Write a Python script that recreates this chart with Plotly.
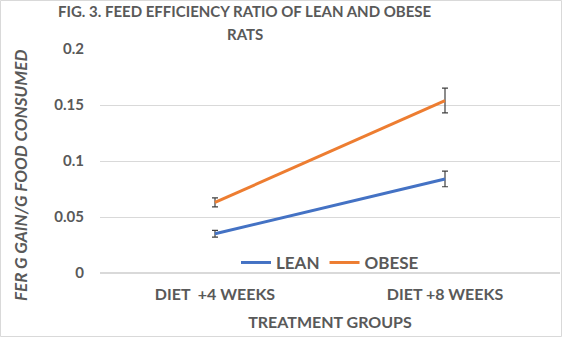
import plotly.graph_objects as go

groups = ["DIET  +4 WEEKS", "DIET +8 WEEKS"]
lean = [0.035, 0.084]
lean_err = [0.003, 0.007]
obese = [0.063, 0.154]
obese_err = [0.004, 0.011]
y_ticks = [0, 0.05, 0.1, 0.15, 0.2]
y_tick_text = ["0", "0.05", "0.1", "0.15", "0.2"]
title_lines = ["FIG. 3. FEED EFFICIENCY RATIO OF LEAN AND OBESE", "RATS"]

grey = "#595959"
font_family = "Lato, 'Open Sans', sans-serif"

fig = go.Figure()
fig.add_trace(go.Scatter(
    x=groups, y=lean, name="<b>LEAN</b>", mode="lines",
    line=dict(color="#4472C4", width=3),
    error_y=dict(type="data", array=lean_err, color="#404040", thickness=1.2, width=3),
))
fig.add_trace(go.Scatter(
    x=groups, y=obese, name="<b>OBESE</b>", mode="lines",
    line=dict(color="#ED7D31", width=3),
    error_y=dict(type="data", array=obese_err, color="#404040", thickness=1.2, width=3),
))

# two-line chart title, drawn as separate lines for wider line spacing
title_annos = [
    dict(text="<b>%s</b>" % line, xref="paper", yref="paper", x=0.315, y=1,
         yshift=38 - 23 * i, xanchor="center", yanchor="middle",
         showarrow=False, font=dict(size=15, color=grey))
    for i, line in enumerate(title_lines)
]

fig.update_layout(
    width=562, height=337,
    margin=dict(l=100, r=2, t=49, b=64),
    paper_bgcolor="white", plot_bgcolor="white",
    font=dict(family=font_family, color=grey),
    showlegend=True,
    legend=dict(orientation="h", x=0.5, xanchor="center", y=0.045, yanchor="middle",
                font=dict(size=17, color=grey), bgcolor="rgba(0,0,0,0)"),
    annotations=title_annos + [
        dict(text="<b><i>FER G GAIN/G FOOD CONSUMED</i></b>",
             xref="paper", yref="paper", x=0, xshift=-80, y=0.5, yshift=-15,
             xanchor="center", yanchor="middle", textangle=-90,
             showarrow=False, font=dict(size=17, color=grey)),
    ],
    shapes=[dict(type="rect", xref="paper", yref="paper",
                 x0=-0.2163, x1=1.0033, y0=-0.2835, y1=1.2165,
                 line=dict(color="#D9D9D9", width=1))],
)
fig.update_xaxes(
    type="category", range=[-0.5, 1.5], showgrid=False, showline=False, ticks="",
    tickvals=groups, ticktext=["<b>%s</b>" % g for g in groups],
    tickfont=dict(size=16, color=grey), ticklabelstandoff=10,
    title=dict(text="<b>TREATMENT GROUPS</b>", font=dict(size=16, color=grey), standoff=14),
)
fig.update_yaxes(
    range=[0, 0.2], tickvals=y_ticks, ticktext=["<b>%s</b>" % t for t in y_tick_text],
    showgrid=True, gridcolor="#D9D9D9", gridwidth=1, zeroline=True, zerolinecolor="#D9D9D9",
    showline=False, ticks="", ticklabelstandoff=15, tickfont=dict(size=15, color=grey),
)

fig.write_html("out.html")
